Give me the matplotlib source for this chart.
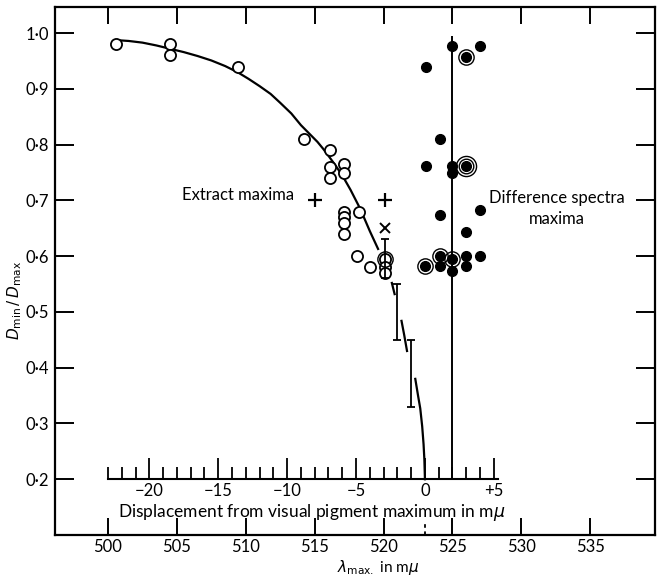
import numpy as np
import matplotlib.pyplot as plt
from matplotlib.ticker import FixedLocator

plt.rcParams['font.family'] = ['Lato', 'DejaVu Sans']
plt.rcParams['mathtext.fontset'] = 'dejavusans'

# visual pigment maximum (mu)
visual_max = 523

# extract measurements (open circles)
open_x = [500.6, 504.5, 504.5, 509.4, 514.2, 516.1, 516.1, 516.1, 517.1, 517.1,
          518.2, 517.1, 517.1, 517.1, 517.1, 518.1, 519.0, 520.1, 520.1, 520.1]
open_y = [0.98, 0.98, 0.96, 0.94, 0.81, 0.79, 0.76, 0.74, 0.765, 0.75,
          0.68, 0.68, 0.67, 0.66, 0.64, 0.60, 0.58, 0.595, 0.58, 0.57]
open_ringed = [(520.1, 0.595)]

# difference spectra maxima (filled)
dot_x = [525.0, 527.0, 526.0, 523.1, 524.1, 523.1, 525.0, 525.0, 526.0, 524.1,
         527.0, 526.0, 524.1, 526.0, 527.0, 523.0, 524.1, 525.0, 525.0, 526.0]
dot_y = [0.977, 0.977, 0.957, 0.94, 0.81, 0.762, 0.762, 0.75, 0.762, 0.673,
         0.683, 0.643, 0.60, 0.60, 0.60, 0.583, 0.583, 0.595, 0.574, 0.583]
ringed = [(526.0, 0.957), (524.1, 0.60), (523.0, 0.583), (525.0, 0.595)]
double_ringed = [(526.0, 0.762)]

# extract maxima
plus_x = [515.0, 520.1]
plus_y = [0.70, 0.70]
cross_x = [520.1]
cross_y = [0.65]

# error ranges
err_x = [520.1, 521.0, 522.0]
err_lo = [0.56, 0.45, 0.33]
err_hi = [0.63, 0.55, 0.45]

# fitted curve, broken around the error bars
curve_segments = [
    ([500.9, 501.5, 502.5, 503.5, 504.5, 505.5, 506.5, 507.5, 508.5, 509.4,
      510.2, 511.0, 511.8, 512.5, 513.3, 514.0, 514.6, 515.2, 515.6, 516.0,
      516.5, 517.0, 517.6, 518.2, 518.6, 519.0, 519.3, 519.6],
     [0.987, 0.986, 0.983, 0.978, 0.972, 0.966, 0.959, 0.951, 0.941, 0.930,
      0.918, 0.905, 0.891, 0.875, 0.856, 0.835, 0.820, 0.805, 0.793, 0.780,
      0.763, 0.745, 0.719, 0.690, 0.668, 0.645, 0.629, 0.613]),
    ([520.6, 520.8], [0.552, 0.532]),
    ([521.3, 521.5, 521.7], [0.484, 0.458, 0.43]),
    ([522.3, 522.5, 522.66, 522.8, 522.9, 522.96, 523.0],
     [0.38, 0.35, 0.327, 0.295, 0.263, 0.235, 0.2]),
]

diff_line_x = 525.0

fig = plt.figure(figsize=(6.57, 5.79), dpi=100)
ax = fig.add_axes([0.0837, 0.076, 0.9133, 0.912])
ax.set_xlim(496.15, 539.7)
ax.set_ylim(0.1, 1.047)

for cx, cy in curve_segments:
    ax.plot(cx, cy, color='black', lw=1.6)

ax.vlines(diff_line_x, 0.2, 0.995, color='black', lw=1.4)

ax.plot(open_x, open_y, 'o', ms=8, mfc='white', mec='black', mew=1.3, zorder=3)
for x, y in open_ringed:
    ax.plot(x, y, 'o', ms=11, mfc='none', mec='black', mew=1.0, zorder=3)

ax.plot(dot_x, dot_y, 'o', ms=7, color='black', zorder=4)
for x, y in ringed:
    ax.plot(x, y, 'o', ms=11, mfc='none', mec='black', mew=1.0, zorder=4)
for x, y in double_ringed:
    ax.plot(x, y, 'o', ms=10.5, mfc='none', mec='black', mew=1.0, zorder=4)
    ax.plot(x, y, 'o', ms=14.5, mfc='none', mec='black', mew=1.0, zorder=4)

ax.plot(plus_x, plus_y, '+', ms=10, mew=1.6, color='black')
ax.plot(cross_x, cross_y, 'x', ms=7, mew=1.4, color='black')

err_mid = [(lo + hi) / 2 for lo, hi in zip(err_lo, err_hi)]
err_span = [[m - lo for m, lo in zip(err_mid, err_lo)],
            [hi - m for m, hi in zip(err_mid, err_hi)]]
ax.errorbar(err_x, err_mid, yerr=err_span, fmt='none', ecolor='black',
            elinewidth=1.3, capsize=3, capthick=1.3, zorder=5)

# dashed mark for the visual pigment maximum on the wavelength axis
ax.plot([visual_max, visual_max], [0.1, 0.124], color='black', lw=1.3,
        ls=(0, (2, 2)))

# axes styling
for sp in ax.spines.values():
    sp.set_linewidth(1.6)
ax.set_xticks(np.arange(500, 540, 5))
ax.set_yticks(np.arange(0.2, 1.01, 0.1))
ax.set_yticklabels([f'{v:.1f}'.replace('.', '·') for v in np.arange(0.2, 1.01, 0.1)])
ax.tick_params(direction='in', top=True, right=True, width=1.4, labelsize=12)
ax.tick_params(axis='x', length=12, pad=3)
ax.tick_params(axis='y', length=14, pad=4)

ax.set_xlabel(r'$\lambda_{\rm max.}$ in m$\mu$', fontsize=11)
ax.xaxis.set_label_coords(0.538, -0.043)
ax.set_ylabel(r'$D_{\rm min}\,/\,D_{\rm max}$', fontsize=11)
ax.yaxis.set_label_coords(-0.052, 0.445)

# displacement scale drawn at D = 0.2
ylo, yhi = ax.get_ylim()
sec = ax.secondary_xaxis((0.2 - ylo) / (yhi - ylo),
                         functions=(lambda l: l - visual_max, lambda d: d + visual_max))
sec.spines['bottom'].set_bounds(-23, 5.3)
sec.spines['bottom'].set_linewidth(1.5)
sec.set_xticks([-20, -15, -10, -5, 0, 5])
sec.set_xticklabels(['−20', '−15', '−10', '−5', '0', '+5'])
sec.xaxis.set_minor_locator(FixedLocator(list(range(-23, 6))))
sec.tick_params(which='both', direction='in', width=1.3, labelsize=12, pad=3)
sec.tick_params(which='major', length=15)
sec.tick_params(which='minor', length=9)

ax.text(514.8, 0.141, r'Displacement from visual pigment maximum in m$\mu$',
        fontsize=12.5, ha='center', va='center')

ax.text(505.4, 0.709, 'Extract maxima', fontsize=12, ha='left', va='center')
ax.text(532.6, 0.685, 'Difference spectra\nmaxima', fontsize=12, ha='center',
        va='center', multialignment='center', linespacing=1.4)

fig.savefig('out.png', dpi=100)
